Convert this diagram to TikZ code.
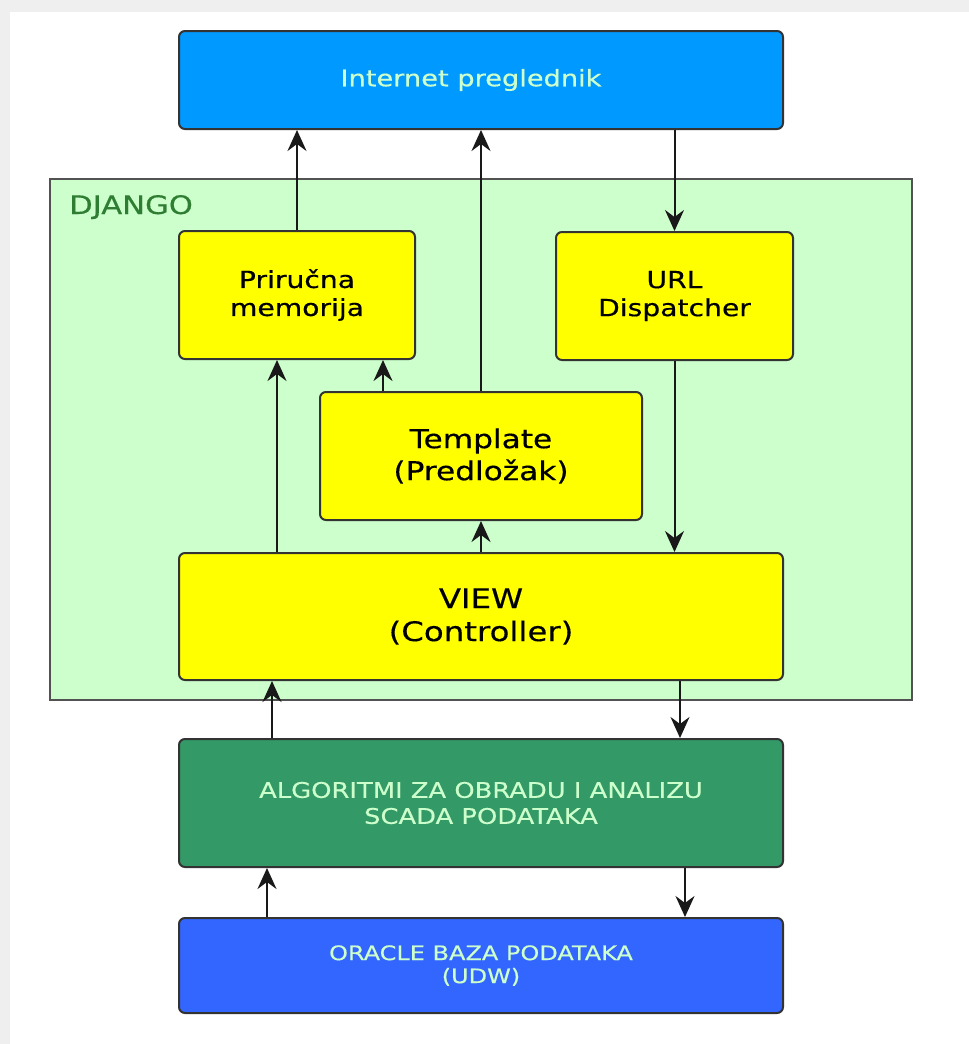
\documentclass[tikz,border=0pt]{standalone}
\usepackage{fontspec}
\newfontfamily\djf{DejaVu Sans}[FakeStretch=1.2,FakeBold=0.4]
\usetikzlibrary{arrows.meta}
\definecolor{inetblue}{HTML}{0099FF}
\definecolor{palegreen}{HTML}{CCFFCC}
\definecolor{djgreen}{HTML}{2E7D32}
\definecolor{alggreen}{HTML}{339966}
\definecolor{orablue}{HTML}{3366FF}
\definecolor{boxborder}{HTML}{333333}
\definecolor{framegray}{HTML}{EFEFEF}
\definecolor{ylw}{HTML}{FFFF00}
\begin{document}
\begin{tikzpicture}[x=1pt,y=-1pt,
  box/.style={draw=boxborder, line width=2pt, rounded corners=6pt, align=center, inner sep=0pt},
  ybox/.style={box, fill=ylw, text=black},
  arr/.style={-{Stealth[length=21pt,width=19pt,inset=7pt]}, line width=2pt, draw=black!90},
]
\useasboundingbox (0,0) rectangle (969,1044);
\fill[framegray] (0,0) rectangle (969,1044);
\fill[white] (10,12) rectangle (969,1044);

% DJANGO frame
\node[draw=boxborder!85, fill=palegreen, line width=2pt, minimum width=862pt, minimum height=521pt, inner sep=0pt] (django) at (481,439.5) {};
\node[anchor=base west, text=djgreen, inner sep=0pt, font=\djf\fontsize{25.5}{30}\selectfont] (djlabel) at (69,214) {DJANGO};

% boxes
\node[box, fill=inetblue, text=palegreen, minimum width=604pt, minimum height=98pt,
  font=\djf\fontsize{22.7}{27}\selectfont] (inet) at (481,80) {Internet preglednik\hspace*{20pt}};
\node[ybox, minimum width=236pt, minimum height=128pt,
  font=\djf\fontsize{23.5}{28}\selectfont] (mem) at (297,295) {Priručna\\memorija};
\node[ybox, minimum width=237pt, minimum height=128pt,
  font=\djf\fontsize{23.5}{28}\selectfont] (url) at (674.5,296) {URL\\Dispatcher};
\node[ybox, minimum width=322pt, minimum height=128pt,
  font=\djf\fontsize{26}{32}\selectfont] (tmpl) at (481,456) {Template\\(Predložak)};
\node[ybox, minimum width=604pt, minimum height=127pt,
  font=\djf\fontsize{27}{33}\selectfont] (view) at (481,616.5) {VIEW\\(Controller)};
\node[box, fill=alggreen, text=palegreen, minimum width=604pt, minimum height=128pt,
  font=\djf\fontsize{21.5}{26}\selectfont] (alg) at (481,803) {ALGORITMI ZA OBRADU I ANALIZU\\SCADA PODATAKA};
\node[box, fill=orablue, text=palegreen, minimum width=604pt, minimum height=95pt,
  font=\djf\fontsize{20}{23}\selectfont] (ora) at (481,965.5) {ORACLE BAZA PODATAKA\\(UDW)};

% connectors
\draw[arr] (mem.north) -- (mem.north |- inet.south);
\draw[arr] (tmpl.north) -- (tmpl.north |- inet.south);
\draw[arr] (url.north |- inet.south) -- (url.north);
\draw[arr] (url.south) -- (url.south |- view.north);
\draw[arr] ([xshift=-20pt]mem.south |- view.north) -- ([xshift=-20pt]mem.south);
\draw[arr] ([xshift=-98pt]tmpl.north) -- ([xshift=-98pt]tmpl.north |- mem.south);
\draw[arr] (view.north) -- (tmpl.south);
\draw[arr] ([xshift=-209pt]alg.north) -- ([xshift=-209pt]alg.north |- view.south);
\draw[arr] ([xshift=199pt]view.south) -- ([xshift=199pt]view.south |- alg.north);
\draw[arr] ([xshift=-214pt]ora.north) -- ([xshift=-214pt]ora.north |- alg.south);
\draw[arr] ([xshift=204pt]alg.south) -- ([xshift=204pt]alg.south |- ora.north);
\end{tikzpicture}
\end{document}
